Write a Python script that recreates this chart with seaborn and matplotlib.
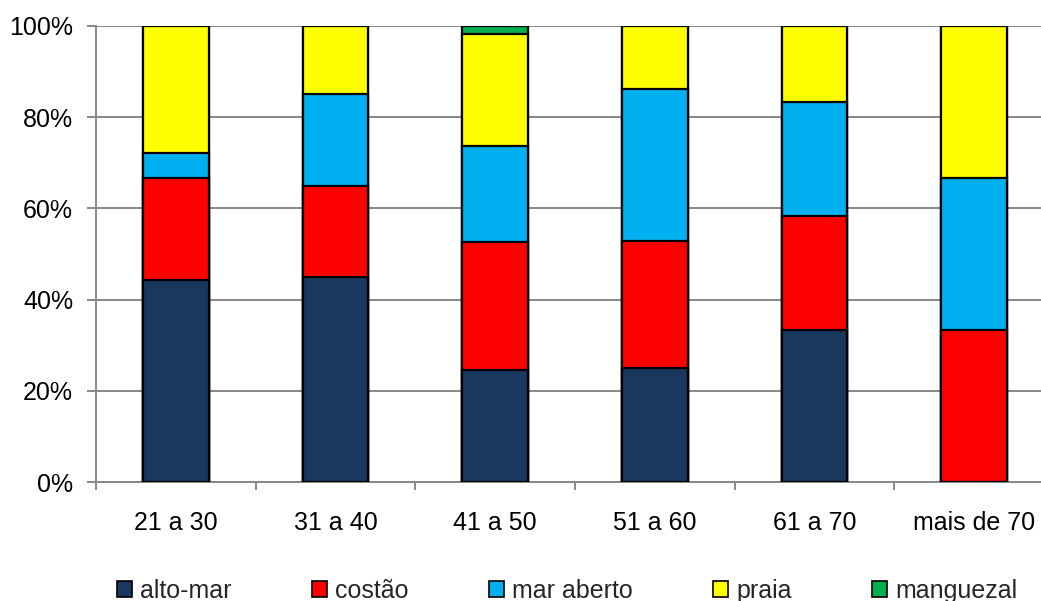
import matplotlib
matplotlib.use("Agg")
import matplotlib.pyplot as plt
import seaborn as sns
import numpy as np
import pandas as pd
from matplotlib.patches import Patch
from matplotlib.ticker import FixedLocator, PercentFormatter

categories = ["21 a 30", "31 a 40", "41 a 50", "51 a 60", "61 a 70", "mais de 70"]
series = ["alto-mar", "costão", "mar aberto", "praia", "manguezal"]
alto_mar   = [44.4, 45.0, 24.6, 25.0, 33.3, 0.0]
costao     = [22.3, 20.0, 28.0, 27.8, 25.0, 33.3]
mar_aberto = [5.5, 20.0, 21.1, 33.3, 25.0, 33.4]
praia      = [27.8, 15.0, 24.5, 13.9, 16.7, 33.3]
manguezal  = [0.0, 0.0, 1.8, 0.0, 0.0, 0.0]
colors = ["#1A375E", "#FF0000", "#00B0F0", "#FFFF00", "#00B050"]
y_ticks = [0, 20, 40, 60, 80, 100]

sns.set_theme(style="white")
plt.rcParams["font.family"] = ["Liberation Sans", "DejaVu Sans"]

values = [alto_mar, costao, mar_aberto, praia, manguezal]
cum = np.cumsum(np.array(values), axis=0)

fig = plt.figure(figsize=(10.41, 6.01), dpi=100)
ax = fig.add_axes([96 / 1041, 1 - 482.3 / 601, 958 / 1041, (482.3 - 25.7) / 601])

# draw stacked bars from the top layer down (each layer covers from 0 to cumulative)
for i in range(len(series) - 1, -1, -1):
    df = pd.DataFrame({"cat": categories, "val": cum[i]})
    sns.barplot(data=df, x="cat", y="val", color=colors[i], width=0.413,
                edgecolor="black", linewidth=1.6, saturation=1, ax=ax, zorder=3)

ax.set_xlim(-0.5, 5.5)
ax.set_ylim(0, 100)
ax.set_xlabel("")
ax.set_ylabel("")

# gridlines
ax.yaxis.set_major_locator(FixedLocator(y_ticks))
ax.yaxis.set_major_formatter(PercentFormatter(decimals=0))
ax.grid(axis="y", color="#888888", linewidth=1.4, zorder=0)
ax.set_axisbelow(True)

for s in ["top", "right"]:
    ax.spines[s].set_visible(False)
for s in ["left", "bottom"]:
    ax.spines[s].set_color("#888888")
    ax.spines[s].set_linewidth(1.4)

ax.tick_params(axis="y", which="major", left=True, length=6.5, width=1.4,
               color="#888888", pad=10, labelsize=18, labelcolor="black")

# x: boundary ticks (major, no labels), labels at centers (minor)
ax.set_xticks(np.arange(-0.5, 6.0, 1.0))
ax.set_xticklabels([""] * 7)
ax.set_xticks(np.arange(len(categories)), minor=True)
ax.set_xticklabels(categories, minor=True)
ax.tick_params(axis="x", which="major", bottom=True, length=6, width=1.4,
               color="#888888", direction="out")
ax.tick_params(axis="x", which="minor", bottom=True, length=0, pad=21,
               labelsize=18, labelcolor="black")

handles = [Patch(facecolor=c, edgecolor="black", linewidth=1.2) for c in colors]
fig.legend(handles, series, loc="center", bbox_to_anchor=(567 / 1041, 1 - 591 / 601),
           ncol=5, frameon=False, fontsize=18, handlelength=0.6, handleheight=0.6,
           handletextpad=0.32, columnspacing=3.22, borderaxespad=0, borderpad=0)

fig.savefig("out.png", dpi=100)
